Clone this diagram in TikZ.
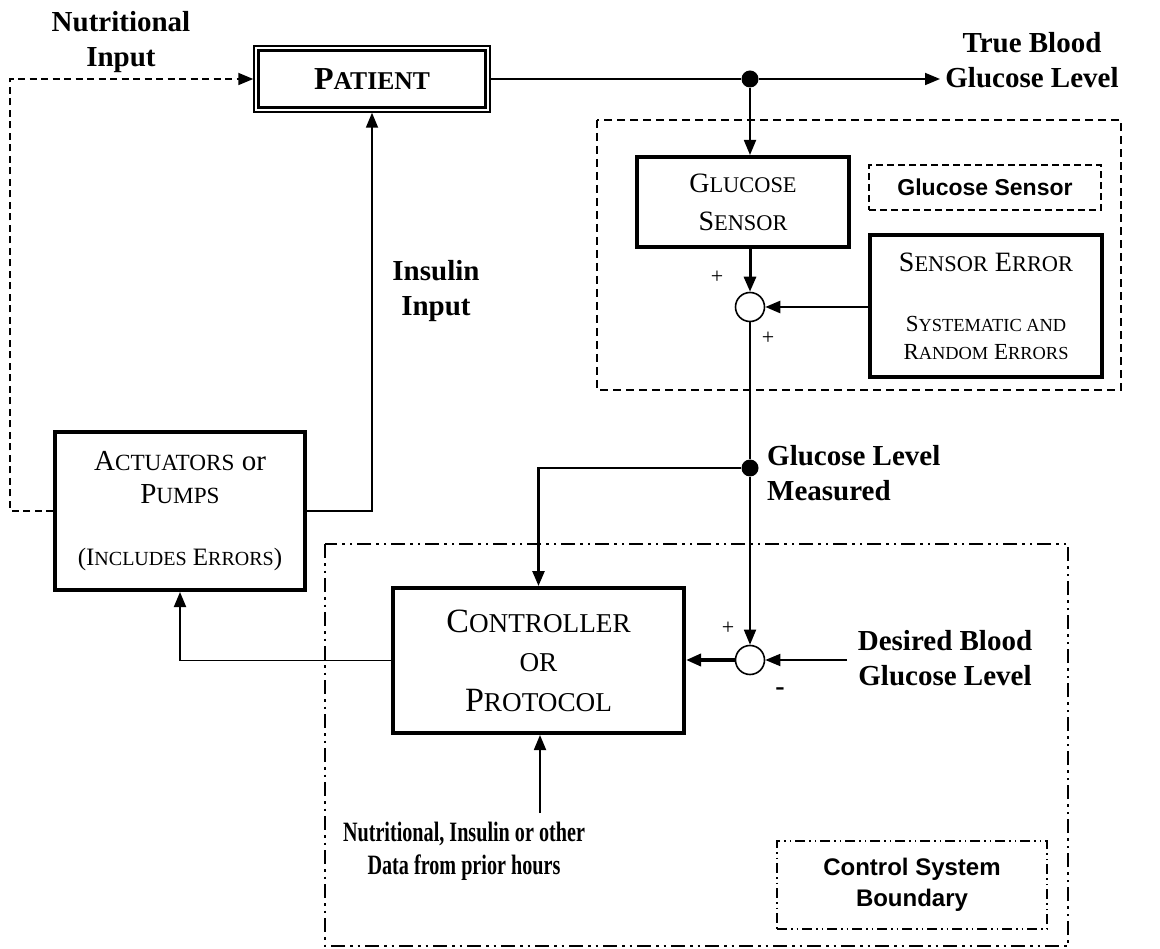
\documentclass[tikz,border=0pt]{standalone}
\usepackage{fontspec}
\setmainfont{Liberation Serif}
\setsansfont{Liberation Sans}
\usetikzlibrary{arrows.meta,calc}
\makeatletter
\newcommand{\sk}[1]{{\fontsize{\fpeval{0.8*\f@size}}{\f@baselineskip}\selectfont #1}}
\makeatother
\tikzset{
  box/.style={draw, line width=4pt, inner sep=0pt, align=center},
  conn/.style={line width=1.8pt},
  arr/.style={-{Triangle[length=15pt,width=12pt]}},
  lbl/.style={font=\bfseries\fontsize{29}{35}\selectfont, align=center, inner sep=0pt},
  sumc/.style={circle, draw, line width=1.6pt, minimum size=29pt, inner sep=0pt},
  jdot/.style={circle, fill, minimum size=17pt, inner sep=0pt},
  dashln/.style={dash pattern=on 7pt off 4.5pt},
  ddd/.style={dash pattern=on 14pt off 5pt on 2.5pt off 5pt on 2.5pt off 5pt, line width=2pt},
  sgn/.style={font=\fontsize{22}{22}\selectfont, inner sep=0pt}
}
\begin{document}
\begin{tikzpicture}[x=1pt,y=-1pt]
\useasboundingbox[fill=white] (0,0) rectangle (1160,949);

% regions
\draw[dash pattern=on 8pt off 5pt, line width=1.8pt] (597,120) rectangle (1121,390);
\draw[ddd] (325,544) rectangle (1068,946);

% boxes
\node[box, line width=1.5pt, minimum width=236pt, minimum height=66pt,
      font=\bfseries\fontsize{32}{36}\selectfont] (pat) at (372,79) {P\sk{ATIENT}};
\draw[line width=3pt] ($(pat.north west)+(5.5,5.5)$) rectangle ($(pat.south east)+(-5.5,-5.5)$);

\node[box, minimum width=250pt, minimum height=158pt, font=\fontsize{29}{33}\selectfont]
  (act) at (180,511) {A\sk{CTUATORS} or\\P\sk{UMPS}\\[29pt]{\fontsize{25}{33}\selectfont(I\sk{NCLUDES} E\sk{RRORS})}};

\node[box, minimum width=291pt, minimum height=145pt, font=\fontsize{34}{39.5}\selectfont]
  (ctrl) at (538.5,660.5) {C\sk{ONTROLLER}\\\sk{OR}\\P\sk{ROTOCOL}};

\node[box, minimum width=212pt, minimum height=90pt, font=\fontsize{28}{38}\selectfont]
  (gs) at (743,202) {G\sk{LUCOSE}\\S\sk{ENSOR}};

\node[box, minimum width=232pt, minimum height=142pt, font=\fontsize{28}{28}\selectfont]
  (serr) at (986,306) {S\sk{ENSOR} E\sk{RROR}\\[32pt]{\fontsize{23}{28}\selectfont S\sk{YSTEMATIC AND}}\\{\fontsize{23}{28}\selectfont R\sk{ANDOM} E\sk{RRORS}}};

\node[draw, dash pattern=on 7pt off 4pt, line width=1.5pt, minimum width=232pt, minimum height=45pt,
      inner sep=0pt, font=\sffamily\bfseries\fontsize{23}{27}\selectfont] (gsl) at (985,187.5) {Glucose Sensor};

\node[draw, dash pattern=on 10pt off 4pt on 1.5pt off 4pt on 1.5pt off 4pt, line width=1.5pt,
      minimum width=270pt, minimum height=88pt, inner sep=0pt, align=center,
      font=\sffamily\bfseries\fontsize{24}{31}\selectfont] (csb) at (912,885) {Control System\\Boundary};

% summing junctions and dots
\node[sumc] (s1) at (750,307) {};
\node[sumc] (s2) at (750,660) {};
\node[jdot] (j1) at (750,79) {};
\node[jdot] (j2) at (750,468) {};
\coordinate (tbgin) at (940,79);
\coordinate (dbg) at (847,660);
\coordinate (hist) at (540,813);

% connectors
\draw[conn, dashln, arr] (act.west) -- ++(-43,0) |- (pat.west);
\draw[conn, arr] (act.east) -| (pat.south);
\draw[conn] (pat.east) -- (j1);
\draw[conn, arr] (j1) -- (tbgin);
\draw[conn, arr] (j1) -- (j1 |- gs.north);
\draw[line width=3pt, arr] (s1 |- gs.south) -- (s1.north);
\draw[line width=2.5pt, arr] (serr.west |- s1) -- (s1.east);
\draw[conn] (s1.south) -- (j2);
\draw[line width=2.5pt, arr] (j2) -| (ctrl.north);
\draw[conn, arr] (j2) -- (s2.north);
\draw[line width=3.5pt, arr] (s2.west) -- (ctrl.east |- s2);
\draw[conn, arr] (dbg) -- (s2.east);
\draw[conn, arr] (ctrl.west) -| (act.south);
\draw[conn, arr] (hist) -- (hist |- ctrl.south);

% labels
\node[lbl] (nin) at (121,42.5) {Nutritional\\Input};
\node[lbl] (tbg) at (1032,60) {True Blood\\Glucose Level};
\node[lbl] (iin) at (436,291) {Insulin\\Input};
\node[lbl, align=left, anchor=west] (glm) at (767,473) {Glucose Level\\Measured};
\node[lbl] (dbgl) at (945,658) {Desired Blood\\Glucose Level};
\node[lbl, font=\bfseries\fontsize{28}{33}\selectfont] (hl) at (464,851)
  {\scalebox{0.72}[1]{Nutritional, Insulin or other}\\\scalebox{0.72}[1]{Data from prior hours}};
\node[sgn] (p1) at (717,277) {+};
\node[sgn] (p2) at (768,338) {+};
\node[sgn] (p3) at (728,628) {+};
\node[font=\bfseries\fontsize{28}{28}\selectfont, inner sep=0pt] (m1) at (780,692) {-};
\end{tikzpicture}
\end{document}
